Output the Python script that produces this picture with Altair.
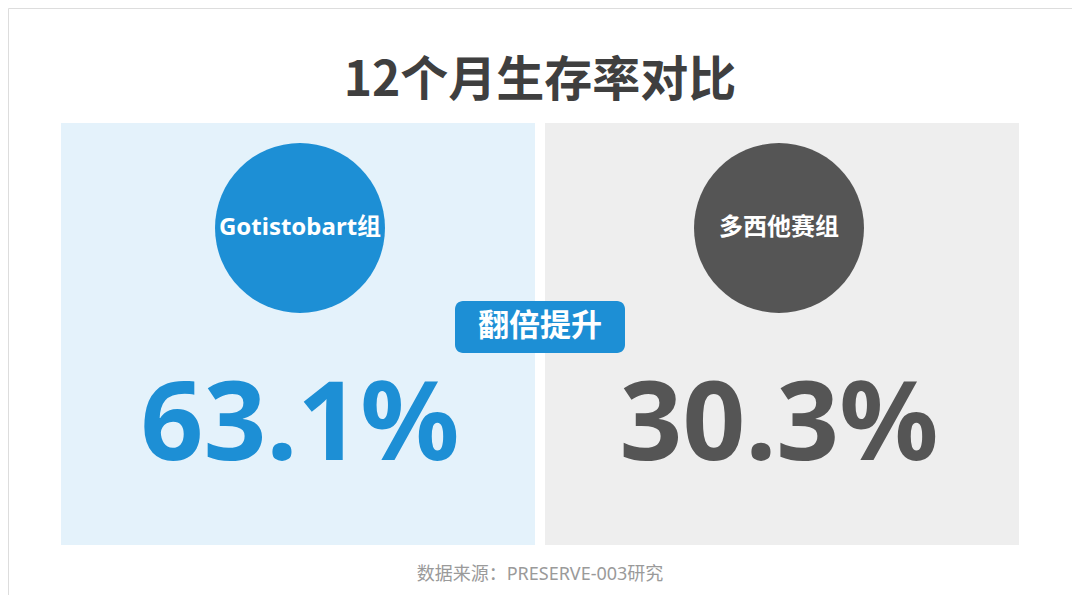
import altair as alt
import pandas as pd

# ---- data ----
groups = ["Gotistobart组", "多西他赛组"]
rates = [63.1, 30.3]
title_text = "12个月生存率对比"
badge_text = "翻倍提升"
source_text = "数据来源：PRESERVE-003研究"

df = pd.DataFrame({"group": groups, "rate": rates})

# ---- styles ----
PANEL = ["#E4F2FB", "#EEEEEE"]
MAIN = ["#1D8FD5", "#555555"]
FONT = "Noto Sans, Noto Sans CJK SC"
CJK = "Noto Sans CJK SC"

base = alt.Chart(df)

panel_x = alt.X("group:N", sort=groups, axis=None,
                scale=alt.Scale(domain=groups, range=[53, 1011],
                                paddingInner=0.0207, paddingOuter=0))
point_x = alt.X("group:N", sort=groups, axis=None,
                scale=alt.Scale(type="point", domain=groups, range=[292, 771], padding=0))

panels = base.mark_bar().encode(
    x=panel_x,
    y=alt.value(115), y2=alt.value(537),
    color=alt.Color("group:N", scale=alt.Scale(domain=groups, range=PANEL), legend=None),
)

circles = base.mark_circle(opacity=1, size=28900).encode(
    x=point_x,
    y=alt.value(220),
    color=alt.Color("group:N", scale=alt.Scale(domain=groups, range=MAIN), legend=None),
)

circle_labels = base.mark_text(font=FONT, fontSize=24, fontWeight="bold", color="white",
                               baseline="middle", align="center").encode(
    x=point_x, y=alt.value(220), text="group:N")

numbers = base.transform_calculate(
    label="format(datum.rate, '.1f') + '%'"
).mark_text(font=FONT, fontSize=110, fontWeight="bold", baseline="alphabetic",
            align="center").encode(
    x=point_x, y=alt.value(452), text="label:N",
    color=alt.Color("group:N", scale=alt.Scale(domain=groups, range=MAIN), legend=None),
)

badge_df = pd.DataFrame({"t": [badge_text]})
badge = alt.Chart(badge_df).mark_rect(color="#1D8FD5", cornerRadius=8).encode(
    x=alt.value(447), x2=alt.value(617), y=alt.value(293), y2=alt.value(345))
badge_label = alt.Chart(badge_df).mark_text(font=CJK, fontSize=31, fontWeight="bold",
                                            color="white", baseline="middle", align="center").encode(
    x=alt.value(532), y=alt.value(319), text="t:N")

title_df = pd.DataFrame({"t": [title_text]})
title = alt.Chart(title_df).mark_text(font=CJK, fontSize=48, fontWeight="bold", color="#3F3F3F",
                                      baseline="alphabetic", align="center").encode(
    x=alt.value(532), y=alt.value(88), text="t:N")

src_df = pd.DataFrame({"t": [source_text]})
source = alt.Chart(src_df).mark_text(font=FONT, fontSize=18, color="#9A9A9A",
                                     baseline="middle", align="center").encode(
    x=alt.value(532), y=alt.value(567), text="t:N")

chart = alt.layer(
    panels, alt.layer(circles, circle_labels, numbers), badge, badge_label, title, source
).resolve_scale(x="independent", color="independent").properties(
    width=1064, height=587, padding=0,
    autosize=alt.AutoSizeParams(type="none"),
).configure_view(stroke="transparent", strokeWidth=0).configure(background="white")

chart.save("out.html", embed_options={"renderer": "svg", "actions": False})
